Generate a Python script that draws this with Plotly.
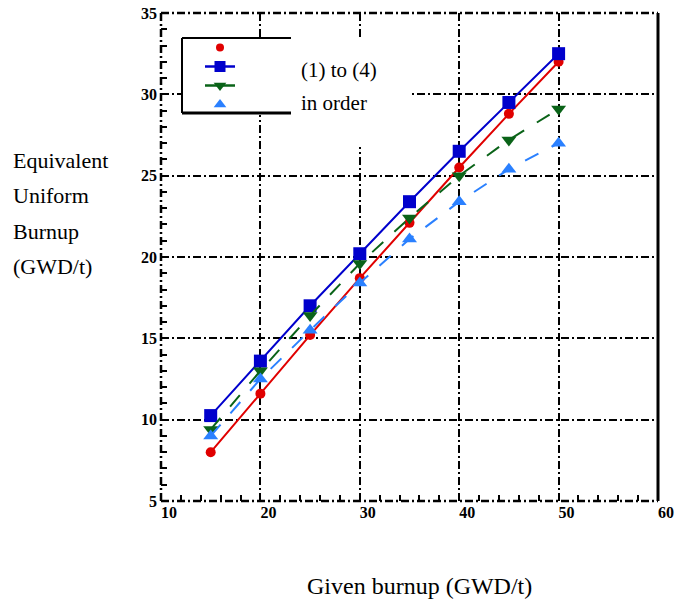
import plotly.graph_objects as go

burnup = [15, 20, 25, 30, 35, 40, 45, 50]
s1 = [8.0, 11.6, 15.2, 18.7, 22.1, 25.5, 28.8, 32.0]
s2 = [10.25, 13.6, 17.0, 20.2, 23.4, 26.5, 29.5, 32.5]
s3 = [9.4, 13.0, 16.4, 19.6, 22.4, 25.0, 27.2, 29.1]
s4 = [9.0, 12.5, 15.5, 18.4, 21.1, 23.4, 25.4, 27.0]

x_ticks = [10, 20, 30, 40, 50, 60]
y_ticks = [5, 10, 15, 20, 25, 30, 35]
y_title_lines = ["Equivalent", "Uniform", "Burnup", "(GWD/t)"]
x_title = "Given burnup (GWD/t)"
legend_text = ["(1) to (4)", "in order"]

series = [
    dict(y=s1, color="#e00000", symbol="circle", size=10, dash="solid", width=2, leg_mode="markers"),
    dict(y=s2, color="#0000cc", symbol="square", size=13, dash="solid", width=2, leg_mode="lines+markers"),
    dict(y=s3, color="#0a6318", symbol="triangle-down", size=13, dash="longdash", width=2, leg_mode="lines+markers"),
    dict(y=s4, color="#2a80ff", symbol="triangle-up", size=13, dash="longdash", width=2, leg_mode="markers"),
]

fig = go.Figure()
for s in series:
    fig.add_trace(go.Scatter(
        x=burnup, y=s["y"], mode="lines+markers", showlegend=False,
        line=dict(color=s["color"], width=s["width"], dash=s["dash"]),
        marker=dict(color=s["color"], symbol=s["symbol"], size=s["size"]),
    ))
for s in series:
    fig.add_trace(go.Scatter(
        x=[None], y=[None], mode=s["leg_mode"], name=" ", showlegend=True,
        line=dict(color=s["color"], width=2.5),
        marker=dict(color=s["color"], symbol=s["symbol"], size=s["size"] - 2),
    ))

L, R, T, B = 161, 17, 13, 101
W, H = 675, 602
pw, ph = W - L - R, H - T - B

def px(xp):
    return (xp - L) / pw

def py(yp):
    return 1 - (yp - T) / ph

shapes = []
shapes.append(dict(type="rect", xref="paper", yref="paper", x0=px(181), x1=px(292), y0=py(115), y1=py(37),
                   fillcolor="white", line=dict(width=0), layer="above"))
shapes.append(dict(type="rect", xref="paper", yref="paper", x0=px(291), x1=px(411), y0=py(147), y1=py(37),
                   fillcolor="white", line=dict(width=0), layer="above"))
shapes.append(dict(type="line", xref="paper", yref="paper", x0=px(182), x1=px(291), y0=py(38), y1=py(38),
                   line=dict(color="black", width=2), layer="above"))
shapes.append(dict(type="line", xref="paper", yref="paper", x0=px(182), x1=px(182), y0=py(38), y1=py(113),
                   line=dict(color="black", width=2), layer="above"))
shapes.append(dict(type="line", xref="paper", yref="paper", x0=px(182), x1=px(291), y0=py(113), y1=py(113),
                   line=dict(color="black", width=3), layer="above"))
border_dash = "8px,3px,2px,3px"
shapes.append(dict(type="line", xref="paper", yref="paper", x0=0, x1=0, y0=0, y1=1,
                   line=dict(color="black", width=2.5, dash=border_dash), layer="below"))
shapes.append(dict(type="line", xref="paper", yref="paper", x0=0, x1=1, y0=1, y1=1,
                   line=dict(color="black", width=2.5, dash=border_dash), layer="below"))
shapes.append(dict(type="line", xref="paper", yref="paper", x0=0, x1=1, y0=0, y1=0,
                   line=dict(color="black", width=2.5, dash=border_dash), layer="below"))
shapes.append(dict(type="line", xref="paper", yref="paper", x0=1, x1=1, y0=0, y1=1,
                   line=dict(color="black", width=3), layer="below"))

annotations = []
for i, t in enumerate(y_title_lines):
    annotations.append(dict(text=t, xref="paper", yref="paper", x=px(11), y=py(160 + i * 35.5),
                            xanchor="left", yanchor="middle", showarrow=False,
                            font=dict(family="Liberation Serif", size=22, color="black")))
annotations.append(dict(text=x_title, xref="paper", yref="paper", x=px(419), y=py(586),
                        xanchor="center", yanchor="middle", showarrow=False,
                        font=dict(family="Liberation Serif", size=24, color="black")))
for i, t in enumerate(legend_text):
    annotations.append(dict(text=t, xref="paper", yref="paper", x=px(299), y=py(70 + i * 33),
                            xanchor="left", yanchor="middle", showarrow=False,
                            font=dict(family="Liberation Serif", size=21, color="black")))

grid_dash = "8px,3px,2px,3px"
tickfont = dict(family="Liberation Serif", size=16, color="black", weight="bold")

fig.update_layout(
    width=W, height=H,
    margin=dict(l=L, r=R, t=T, b=B, autoexpand=False),
    paper_bgcolor="white", plot_bgcolor="white",
    showlegend=True,
    legend=dict(x=px(200), y=py(33), xanchor="left", yanchor="top",
                bgcolor="rgba(0,0,0,0)", borderwidth=0, tracegroupgap=0,
                font=dict(size=8), itemwidth=30),
    shapes=shapes,
    annotations=annotations,
    xaxis=dict(range=[10, 60], tickvals=x_ticks, ticktext=[str(v) for v in x_ticks],
               automargin=False,
               showgrid=True, gridcolor="black", gridwidth=2, griddash=grid_dash,
               showline=False, zeroline=False, ticks="", tickfont=tickfont,
               ticklabelshift=8, ticklabelstandoff=0,
               minor=dict(dtick=2, ticks="inside", ticklen=6, tickwidth=2, tickcolor="black", showgrid=False),
               mirror="ticks"),
    yaxis=dict(range=[5, 35], tickvals=y_ticks, ticktext=[str(v) for v in y_ticks],
               automargin=False,
               showgrid=True, gridcolor="black", gridwidth=2, griddash=grid_dash,
               showline=False, zeroline=False, ticks="", tickfont=tickfont,
               ticklabelstandoff=3,
               minor=dict(dtick=1, ticks="inside", ticklen=6, tickwidth=2, tickcolor="black", showgrid=False),
               mirror="ticks"),
)

fig.write_html("out.html", config={"displayModeBar": False},
               post_script="document.body.style.margin='0px';")
